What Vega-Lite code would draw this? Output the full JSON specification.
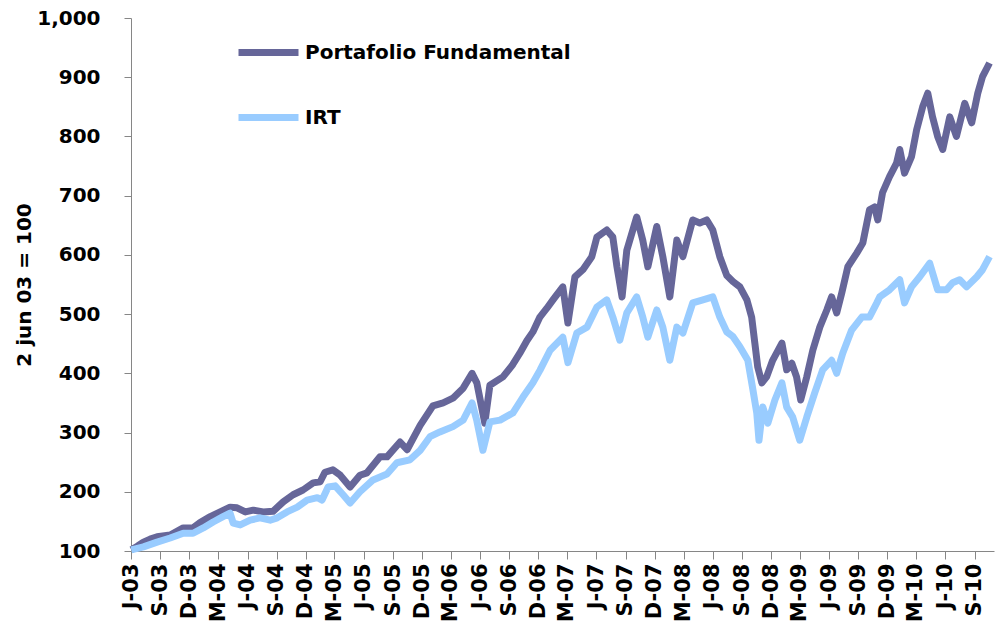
{
  "$schema": "https://vega.github.io/schema/vega-lite/v6.json",
  "width": 863,
  "height": 533,
  "autosize": "none",
  "padding": {"left": 131, "top": 18, "right": 2, "bottom": 76},
  "background": "white",
  "config": {"view": {"stroke": null}},
  "datasets": {
    "pf": [
      {"fecha": "2003-06-02", "valor": 102}, {"fecha": "2003-06-21", "valor": 108}, {"fecha": "2003-07-10", "valor": 115},
      {"fecha": "2003-07-31", "valor": 120}, {"fecha": "2003-08-22", "valor": 124}, {"fecha": "2003-10-02", "valor": 127},
      {"fecha": "2003-11-12", "valor": 139}, {"fecha": "2003-12-13", "valor": 139}, {"fecha": "2004-01-04", "valor": 148},
      {"fecha": "2004-02-05", "valor": 158}, {"fecha": "2004-03-07", "valor": 166}, {"fecha": "2004-04-07", "valor": 174},
      {"fecha": "2004-04-29", "valor": 173}, {"fecha": "2004-05-25", "valor": 166}, {"fecha": "2004-06-19", "valor": 169},
      {"fecha": "2004-07-20", "valor": 166}, {"fecha": "2004-08-20", "valor": 167}, {"fecha": "2004-09-21", "valor": 183},
      {"fecha": "2004-10-22", "valor": 195}, {"fecha": "2004-11-22", "valor": 203}, {"fecha": "2004-12-24", "valor": 215},
      {"fecha": "2005-01-15", "valor": 217}, {"fecha": "2005-01-30", "valor": 233}, {"fecha": "2005-02-24", "valor": 237},
      {"fecha": "2005-03-19", "valor": 228}, {"fecha": "2005-04-19", "valor": 208}, {"fecha": "2005-05-20", "valor": 228},
      {"fecha": "2005-06-11", "valor": 232}, {"fecha": "2005-07-22", "valor": 259}, {"fecha": "2005-08-13", "valor": 259},
      {"fecha": "2005-09-23", "valor": 284}, {"fecha": "2005-10-15", "valor": 271}, {"fecha": "2005-11-25", "valor": 312},
      {"fecha": "2006-01-04", "valor": 345}, {"fecha": "2006-02-05", "valor": 350}, {"fecha": "2006-03-08", "valor": 358},
      {"fecha": "2006-04-09", "valor": 375}, {"fecha": "2006-05-07", "valor": 400}, {"fecha": "2006-05-22", "valor": 384},
      {"fecha": "2006-06-16", "valor": 316}, {"fecha": "2006-07-02", "valor": 380}, {"fecha": "2006-08-12", "valor": 394},
      {"fecha": "2006-09-12", "valor": 415}, {"fecha": "2006-10-04", "valor": 434}, {"fecha": "2006-10-26", "valor": 455},
      {"fecha": "2006-11-14", "valor": 470}, {"fecha": "2006-12-06", "valor": 495}, {"fecha": "2006-12-28", "valor": 510},
      {"fecha": "2007-01-16", "valor": 524}, {"fecha": "2007-02-16", "valor": 546}, {"fecha": "2007-03-04", "valor": 485},
      {"fecha": "2007-03-26", "valor": 563}, {"fecha": "2007-04-20", "valor": 575}, {"fecha": "2007-05-18", "valor": 597},
      {"fecha": "2007-06-03", "valor": 630}, {"fecha": "2007-07-04", "valor": 642}, {"fecha": "2007-07-23", "valor": 630},
      {"fecha": "2007-08-05", "valor": 580}, {"fecha": "2007-08-21", "valor": 529}, {"fecha": "2007-09-05", "valor": 608},
      {"fecha": "2007-10-06", "valor": 664}, {"fecha": "2007-10-25", "valor": 625}, {"fecha": "2007-11-10", "valor": 580},
      {"fecha": "2007-12-08", "valor": 648}, {"fecha": "2007-12-27", "valor": 597}, {"fecha": "2008-01-18", "valor": 529},
      {"fecha": "2008-02-09", "valor": 625}, {"fecha": "2008-02-28", "valor": 597}, {"fecha": "2008-03-30", "valor": 659},
      {"fecha": "2008-04-21", "valor": 654}, {"fecha": "2008-05-13", "valor": 659}, {"fecha": "2008-06-01", "valor": 642},
      {"fecha": "2008-06-23", "valor": 597}, {"fecha": "2008-07-15", "valor": 565}, {"fecha": "2008-08-03", "valor": 555},
      {"fecha": "2008-08-25", "valor": 546}, {"fecha": "2008-09-16", "valor": 524}, {"fecha": "2008-10-01", "valor": 495},
      {"fecha": "2008-10-11", "valor": 451}, {"fecha": "2008-10-20", "valor": 411}, {"fecha": "2008-11-02", "valor": 384},
      {"fecha": "2008-11-17", "valor": 394}, {"fecha": "2008-12-06", "valor": 422}, {"fecha": "2009-01-04", "valor": 451},
      {"fecha": "2009-01-19", "valor": 406}, {"fecha": "2009-02-04", "valor": 417}, {"fecha": "2009-02-19", "valor": 394},
      {"fecha": "2009-03-04", "valor": 355}, {"fecha": "2009-03-23", "valor": 394}, {"fecha": "2009-04-11", "valor": 439},
      {"fecha": "2009-05-03", "valor": 478}, {"fecha": "2009-05-25", "valor": 507}, {"fecha": "2009-06-09", "valor": 529},
      {"fecha": "2009-06-25", "valor": 502}, {"fecha": "2009-07-11", "valor": 536}, {"fecha": "2009-07-30", "valor": 580},
      {"fecha": "2009-08-27", "valor": 603}, {"fecha": "2009-09-15", "valor": 620}, {"fecha": "2009-10-06", "valor": 676},
      {"fecha": "2009-10-22", "valor": 681}, {"fecha": "2009-11-01", "valor": 659}, {"fecha": "2009-11-16", "valor": 705},
      {"fecha": "2009-12-08", "valor": 732}, {"fecha": "2009-12-30", "valor": 755}, {"fecha": "2010-01-09", "valor": 778},
      {"fecha": "2010-01-24", "valor": 738}, {"fecha": "2010-02-15", "valor": 766}, {"fecha": "2010-03-03", "valor": 811},
      {"fecha": "2010-03-22", "valor": 850}, {"fecha": "2010-04-07", "valor": 873}, {"fecha": "2010-04-22", "valor": 833},
      {"fecha": "2010-05-08", "valor": 800}, {"fecha": "2010-05-24", "valor": 778}, {"fecha": "2010-06-15", "valor": 833},
      {"fecha": "2010-07-06", "valor": 800}, {"fecha": "2010-08-01", "valor": 856}, {"fecha": "2010-08-23", "valor": 823},
      {"fecha": "2010-09-11", "valor": 873}, {"fecha": "2010-09-26", "valor": 901}, {"fecha": "2010-10-18", "valor": 924}
    ],
    "irt": [
      {"fecha": "2003-06-02", "valor": 102}, {"fecha": "2003-07-10", "valor": 107}, {"fecha": "2003-08-22", "valor": 115},
      {"fecha": "2003-10-02", "valor": 122}, {"fecha": "2003-11-12", "valor": 130}, {"fecha": "2003-12-13", "valor": 130},
      {"fecha": "2004-01-14", "valor": 139}, {"fecha": "2004-02-14", "valor": 149}, {"fecha": "2004-03-16", "valor": 158},
      {"fecha": "2004-04-07", "valor": 164}, {"fecha": "2004-04-17", "valor": 147}, {"fecha": "2004-05-09", "valor": 144},
      {"fecha": "2004-06-09", "valor": 152}, {"fecha": "2004-07-10", "valor": 156}, {"fecha": "2004-08-11", "valor": 152},
      {"fecha": "2004-09-02", "valor": 156}, {"fecha": "2004-10-03", "valor": 166}, {"fecha": "2004-11-04", "valor": 174},
      {"fecha": "2004-12-05", "valor": 186}, {"fecha": "2005-01-06", "valor": 190}, {"fecha": "2005-01-21", "valor": 186},
      {"fecha": "2005-02-09", "valor": 208}, {"fecha": "2005-03-03", "valor": 210}, {"fecha": "2005-03-28", "valor": 195},
      {"fecha": "2005-04-19", "valor": 181}, {"fecha": "2005-05-20", "valor": 200}, {"fecha": "2005-06-30", "valor": 220},
      {"fecha": "2005-08-13", "valor": 230}, {"fecha": "2005-09-13", "valor": 249}, {"fecha": "2005-10-24", "valor": 254},
      {"fecha": "2005-11-25", "valor": 270}, {"fecha": "2005-12-26", "valor": 293}, {"fecha": "2006-01-26", "valor": 301},
      {"fecha": "2006-03-08", "valor": 310}, {"fecha": "2006-04-09", "valor": 321}, {"fecha": "2006-05-07", "valor": 350},
      {"fecha": "2006-05-22", "valor": 320}, {"fecha": "2006-06-10", "valor": 270}, {"fecha": "2006-07-02", "valor": 318},
      {"fecha": "2006-08-03", "valor": 321}, {"fecha": "2006-09-12", "valor": 333}, {"fecha": "2006-10-14", "valor": 360},
      {"fecha": "2006-11-14", "valor": 384}, {"fecha": "2006-12-06", "valor": 405}, {"fecha": "2007-01-07", "valor": 439},
      {"fecha": "2007-02-16", "valor": 461}, {"fecha": "2007-03-04", "valor": 418}, {"fecha": "2007-04-01", "valor": 468},
      {"fecha": "2007-05-03", "valor": 478}, {"fecha": "2007-06-03", "valor": 512}, {"fecha": "2007-07-04", "valor": 524},
      {"fecha": "2007-07-23", "valor": 495}, {"fecha": "2007-08-14", "valor": 456}, {"fecha": "2007-09-05", "valor": 502},
      {"fecha": "2007-10-06", "valor": 529}, {"fecha": "2007-10-25", "valor": 495}, {"fecha": "2007-11-10", "valor": 461},
      {"fecha": "2007-12-08", "valor": 507}, {"fecha": "2007-12-27", "valor": 478}, {"fecha": "2008-01-18", "valor": 422},
      {"fecha": "2008-02-09", "valor": 478}, {"fecha": "2008-02-28", "valor": 468}, {"fecha": "2008-03-30", "valor": 519},
      {"fecha": "2008-05-01", "valor": 524}, {"fecha": "2008-06-01", "valor": 529}, {"fecha": "2008-06-23", "valor": 495},
      {"fecha": "2008-07-15", "valor": 470}, {"fecha": "2008-08-03", "valor": 462}, {"fecha": "2008-08-25", "valor": 445},
      {"fecha": "2008-09-19", "valor": 422}, {"fecha": "2008-10-05", "valor": 372}, {"fecha": "2008-10-17", "valor": 333},
      {"fecha": "2008-10-24", "valor": 287}, {"fecha": "2008-11-05", "valor": 343}, {"fecha": "2008-11-21", "valor": 316},
      {"fecha": "2008-12-13", "valor": 355}, {"fecha": "2009-01-04", "valor": 384}, {"fecha": "2009-01-19", "valor": 343},
      {"fecha": "2009-02-07", "valor": 326}, {"fecha": "2009-03-01", "valor": 287}, {"fecha": "2009-03-23", "valor": 326},
      {"fecha": "2009-04-17", "valor": 367}, {"fecha": "2009-05-12", "valor": 406}, {"fecha": "2009-06-09", "valor": 422},
      {"fecha": "2009-06-25", "valor": 400}, {"fecha": "2009-07-14", "valor": 434}, {"fecha": "2009-08-11", "valor": 473},
      {"fecha": "2009-09-12", "valor": 495}, {"fecha": "2009-10-06", "valor": 495}, {"fecha": "2009-10-29", "valor": 519},
      {"fecha": "2009-11-07", "valor": 529}, {"fecha": "2009-12-08", "valor": 541}, {"fecha": "2010-01-09", "valor": 558},
      {"fecha": "2010-01-24", "valor": 519}, {"fecha": "2010-02-15", "valor": 546}, {"fecha": "2010-03-13", "valor": 563},
      {"fecha": "2010-04-13", "valor": 586}, {"fecha": "2010-05-08", "valor": 541}, {"fecha": "2010-06-05", "valor": 541},
      {"fecha": "2010-06-24", "valor": 553}, {"fecha": "2010-07-16", "valor": 558}, {"fecha": "2010-08-07", "valor": 546},
      {"fecha": "2010-09-08", "valor": 563}, {"fecha": "2010-09-26", "valor": 575}, {"fecha": "2010-10-18", "valor": 597}
    ]
  },
  "encoding": {
    "x": {
      "field": "fecha",
      "type": "temporal",
      "scale": {
        "type": "utc",
        "domain": [{"year": 2003, "month": 6, "date": 1, "utc": true}, {"year": 2010, "month": 11, "date": 1, "utc": true}]
      },
      "axis": {
        "title": null,
        "grid": false,
        "domainColor": "#868686",
        "tickColor": "#868686",
        "tickSize": 8,
        "labelAngle": -90,
        "labelAlign": "right",
        "labelBaseline": "middle",
        "labelPadding": 4,
        "labelFont": "DejaVu Sans",
        "labelFontWeight": "bold",
        "labelFontSize": 21,
        "labelColor": "black",
        "labelOverlap": false,
        "labelFlush": false,
        "values": [
          {"year": 2003, "month": 6, "date": 1, "utc": true}, {"year": 2003, "month": 9, "date": 1, "utc": true}, {"year": 2003, "month": 12, "date": 1, "utc": true},
          {"year": 2004, "month": 3, "date": 1, "utc": true}, {"year": 2004, "month": 6, "date": 1, "utc": true}, {"year": 2004, "month": 9, "date": 1, "utc": true}, {"year": 2004, "month": 12, "date": 1, "utc": true},
          {"year": 2005, "month": 3, "date": 1, "utc": true}, {"year": 2005, "month": 6, "date": 1, "utc": true}, {"year": 2005, "month": 9, "date": 1, "utc": true}, {"year": 2005, "month": 12, "date": 1, "utc": true},
          {"year": 2006, "month": 3, "date": 1, "utc": true}, {"year": 2006, "month": 6, "date": 1, "utc": true}, {"year": 2006, "month": 9, "date": 1, "utc": true}, {"year": 2006, "month": 12, "date": 1, "utc": true},
          {"year": 2007, "month": 3, "date": 1, "utc": true}, {"year": 2007, "month": 6, "date": 1, "utc": true}, {"year": 2007, "month": 9, "date": 1, "utc": true}, {"year": 2007, "month": 12, "date": 1, "utc": true},
          {"year": 2008, "month": 3, "date": 1, "utc": true}, {"year": 2008, "month": 6, "date": 1, "utc": true}, {"year": 2008, "month": 9, "date": 1, "utc": true}, {"year": 2008, "month": 12, "date": 1, "utc": true},
          {"year": 2009, "month": 3, "date": 1, "utc": true}, {"year": 2009, "month": 6, "date": 1, "utc": true}, {"year": 2009, "month": 9, "date": 1, "utc": true}, {"year": 2009, "month": 12, "date": 1, "utc": true},
          {"year": 2010, "month": 3, "date": 1, "utc": true}, {"year": 2010, "month": 6, "date": 1, "utc": true}, {"year": 2010, "month": 9, "date": 1, "utc": true}
        ],
        "labelExpr": "substring(utcFormat(datum.value, '%b'), 0, 1) + '-' + utcFormat(datum.value, '%y')"
      }
    },
    "y": {
      "field": "valor",
      "type": "quantitative",
      "scale": {"domain": [100, 1000], "nice": false, "zero": false},
      "axis": {
        "title": "2 jun 03 = 100",
        "titleFont": "DejaVu Sans",
        "titleFontWeight": "bold",
        "titleFontSize": 20,
        "titleColor": "black",
        "titlePadding": 2,
        "grid": false,
        "values": [100, 200, 300, 400, 500, 600, 700, 800, 900, 1000],
        "format": ",d",
        "domainColor": "#868686",
        "tickColor": "#868686",
        "tickSize": 7,
        "labelPadding": 24,
        "labelFont": "DejaVu Sans",
        "labelFontWeight": "bold",
        "labelFontSize": 20,
        "labelColor": "black",
        "labelOverlap": false,
        "labelFlush": false
      }
    },
    "color": {
      "field": "serie",
      "type": "nominal",
      "scale": {"domain": ["Portafolio Fundamental", "IRT"], "range": ["#666699", "#99ccff"]},
      "legend": {
        "orient": "none",
        "legendX": 104,
        "legendY": 1,
        "title": null,
        "padding": 0,
        "symbolType": "stroke",
        "symbolSize": 3600,
        "symbolStrokeWidth": 7,
        "labelFont": "DejaVu Sans",
        "labelFontWeight": "bold",
        "labelFontSize": 20,
        "labelColor": "black",
        "labelOffset": 3,
        "labelLimit": 400,
        "rowPadding": 17
      }
    }
  },
  "layer": [
    {
      "data": {"name": "pf"},
      "transform": [{"calculate": "'Portafolio Fundamental'", "as": "serie"}],
      "mark": {"type": "line", "strokeWidth": 7, "strokeJoin": "round"}
    },
    {
      "data": {"name": "irt"},
      "transform": [{"calculate": "'IRT'", "as": "serie"}],
      "mark": {"type": "line", "strokeWidth": 7, "strokeJoin": "round"}
    }
  ]
}
